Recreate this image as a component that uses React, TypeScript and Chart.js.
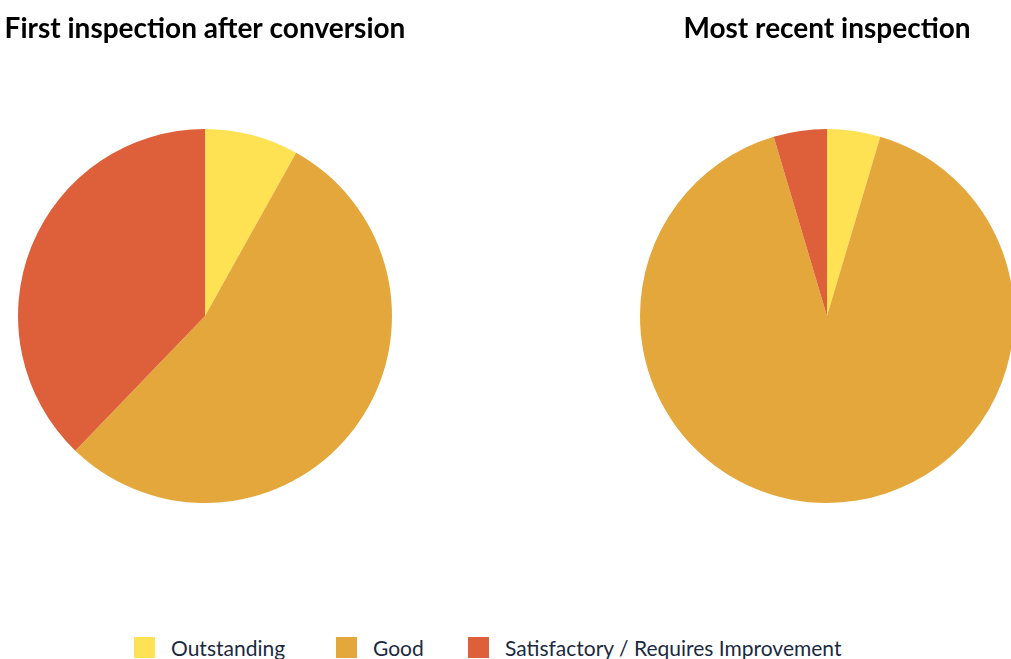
import React, { useEffect, useRef } from "react";
import { Chart, registerables } from "chart.js";

Chart.register(...registerables);

const categories = ["Outstanding", "Good", "Satisfactory / Requires Improvement"];
const firstInspection = [8.1, 54.1, 37.8];
const recentInspection = [4.6, 90.8, 4.6];
const colors = ["#FEE254", "#E4A73B", "#DD603A"];
const titles = ["First inspection after conversion", "Most recent inspection"];

const FONT = "Lato, 'Open Sans', sans-serif";

function PieChart({ values, title }: { values: number[]; title: string }) {
  const ref = useRef<HTMLCanvasElement | null>(null);
  useEffect(() => {
    if (!ref.current) return;
    const chart = new Chart(ref.current, {
      type: "pie",
      data: {
        labels: categories,
        datasets: [
          {
            data: values,
            backgroundColor: colors,
            borderWidth: 0,
          },
        ],
      },
      options: {
        animation: false,
        responsive: false,
        maintainAspectRatio: false,
        layout: { padding: 0 },
        plugins: {
          legend: { display: false },
          tooltip: { enabled: false },
          title: {
            display: true,
            text: title,
            color: "#000000",
            font: { family: FONT, size: 28, weight: "bold", lineHeight: 1.2 },
            padding: { top: 12, bottom: 83.4 },
          },
        },
      },
    });
    return () => chart.destroy();
  }, [values, title]);
  return <canvas ref={ref} width={410} height={503} />;
}

export default function App() {
  const legendLefts = [134, 336, 468];
  return (
    <div
      style={{
        position: "fixed",
        left: 0,
        top: 0,
        width: 1011,
        height: 659,
        overflow: "hidden",
        background: "#ffffff",
      }}
    >
      <div style={{ position: "absolute", left: 0, top: 0, width: 410, height: 503 }}>
        <PieChart values={firstInspection} title={titles[0]} />
      </div>
      <div style={{ position: "absolute", left: 622, top: 0, width: 410, height: 503 }}>
        <PieChart values={recentInspection} title={titles[1]} />
      </div>
      {categories.map((c, i) => (
        <div
          key={c}
          style={{
            position: "absolute",
            left: legendLefts[i],
            top: 637,
            display: "flex",
            alignItems: "flex-start",
            whiteSpace: "nowrap",
          }}
        >
          <div style={{ width: 21, height: 21, background: colors[i], flex: "none" }} />
          <span
            style={{
              marginLeft: 16,
              fontFamily: FONT,
              fontSize: 21,
              lineHeight: "24px",
              color: "#1B2A3F",
              marginTop: -1,
            }}
          >
            {c}
          </span>
        </div>
      ))}
    </div>
  );
}
